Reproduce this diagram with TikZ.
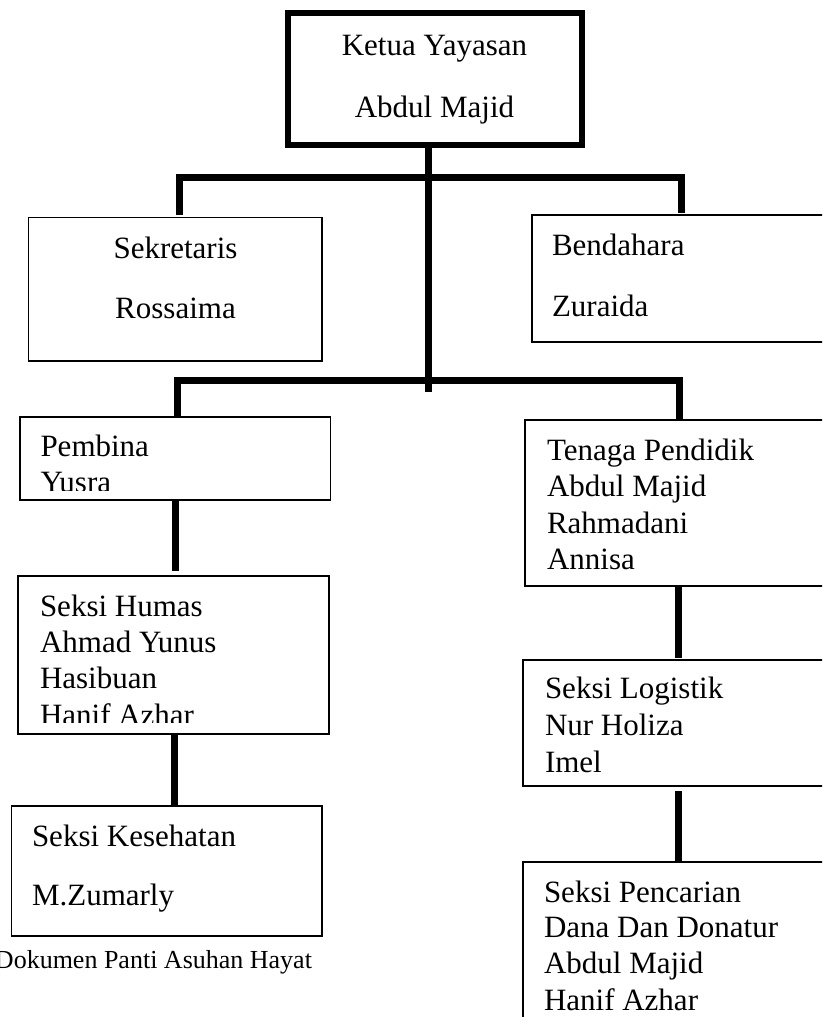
\documentclass[tikz,border=0pt]{standalone}
\usepackage{fontspec}
\setmainfont{Liberation Serif}
\usetikzlibrary{calc}
\tikzset{
  box/.style={draw=black, line width=1.6pt, fill=none, inner sep=0pt, outer sep=0pt, rectangle},
  bigbox/.style={box, line width=6pt},
  conn/.style={draw=black, line width=7pt, line join=miter, line cap=butt},
  lbl/.style={inner sep=0pt, outer sep=0pt, anchor=base west, font=\fontsize{31}{36}\selectfont},
  clbl/.style={lbl, anchor=base},
  captionlbl/.style={inner sep=0pt, outer sep=0pt, anchor=base east, font=\fontsize{26}{30}\selectfont}
}
\begin{document}
\begin{tikzpicture}[x=1pt,y=-1pt]
\useasboundingbox (0,0) rectangle (822,1017);
\clip (0,0) rectangle (822,1017);
\fill[white] (0,0) rectangle (822,1017);

% boxes
\node[bigbox, minimum width=294pt, minimum height=132pt] (ketua) at (435,79) {};
\node[box, minimum width=293.5pt, minimum height=143.5pt] (sek) at (175.25,289.25) {};
\node[box, minimum width=318pt, minimum height=127pt] (bend) at (691,278.5) {};
\node[box, minimum width=310.5pt, minimum height=83pt] (pemb) at (175.25,458.5) {};
\node[box, minimum width=311pt, minimum height=158pt] (humas) at (173.5,655) {};
\node[box, minimum width=310.5pt, minimum height=130pt] (kes) at (166.75,871) {};
\node[box, minimum width=325pt, minimum height=166pt] (tena) at (687.5,503) {};
\node[box, minimum width=327pt, minimum height=126pt] (logi) at (686.5,723) {};
\node[box, minimum width=327pt, minimum height=178pt] (penc) at (686.5,951) {};

% texts
\node[clbl] (t1) at (434.5,55) {Ketua Yayasan};
\node[clbl] (t2) at (434.5,117) {Abdul Majid};
\node[clbl] (t3) at (175.5,258) {Sekretaris};
\node[clbl] (t4) at (175.5,318) {Rossaima};
\node[lbl] (t5) at (552,255) {Bendahara};
\node[lbl] (t6) at (552,316) {Zuraida};
\begin{scope}
\clip (20,417) rectangle (330,490);
\node[lbl] (t7) at (40.5,456) {Pembina};
\node[lbl] (t8) at (40.5,492) {Yusra};
\end{scope}
\begin{scope}
\clip (18,576) rectangle (329,722);
\node[lbl] (t9) at (40,616.5) {Seksi Humas};
\node[lbl] (t10) at (40,652.5) {Ahmad Yunus};
\node[lbl] (t11) at (40,688) {Hasibuan};
\node[lbl] (t12) at (40,725) {Hanif Azhar};
\end{scope}
\node[lbl] (t13) at (32,846) {Seksi Kesehatan};
\node[lbl] (t14) at (32,905) {M.Zumarly};
\node[captionlbl] (src) at (312,968) {Dokumen Panti Asuhan Hayat};

\node[lbl] (t15) at (547,460) {Tenaga Pendidik};
\node[lbl] (t16) at (547,496.5) {Abdul Majid};
\node[lbl] (t17) at (547,533) {Rahmadani};
\node[lbl] (t18) at (547,569.5) {Annisa};
\node[lbl] (t19) at (545,698) {Seksi Logistik};
\node[lbl] (t20) at (545,735) {Nur Holiza};
\node[lbl] (t21) at (545,772) {Imel};
\node[lbl] (t22) at (544,902) {Seksi Pencarian};
\node[lbl] (t23) at (544,937.5) {Dana Dan Donatur};
\node[lbl] (t24) at (544,973) {Abdul Majid};
\node[lbl] (t25) at (544,1010) {Hanif Azhar};

% connectors
\coordinate (tA) at (428.5,177);
\coordinate (tB) at (428.5,392);
\coordinate (h1L) at (179.5,177);
\coordinate (h1R) at (681,177);
\coordinate (h2L) at (177,380);
\coordinate (h2R) at (679,380);
\coordinate (cL1) at (175,0);
\coordinate (cL2) at (174,0);
\coordinate (cR) at (678,0);

\draw[conn] (ketua.south -| tA) -- (tB);
\draw[conn] ($(h1L |- sek.north)+(0,-3)$) -- (h1L) -- (h1R) -- ($(h1R |- bend.north)+(0,-2)$);
\draw[conn] ($(h2L |- pemb.north)+(0,-1)$) -- (h2L) -- (h2R) -- ($(h2R |- tena.north)+(0,-1)$);
\draw[conn] (cL1 |- pemb.south) -- ($(cL1 |- humas.north)+(0,-5)$);
\draw[conn] (cL2 |- humas.south) -- (cL2 |- kes.north);
\draw[conn] (cR |- tena.south) -- ($(cR |- logi.north)+(0,-2)$);
\draw[conn] ($(cR |- logi.south)+(0,5)$) -- (cR |- penc.north);
\end{tikzpicture}
\end{document}
